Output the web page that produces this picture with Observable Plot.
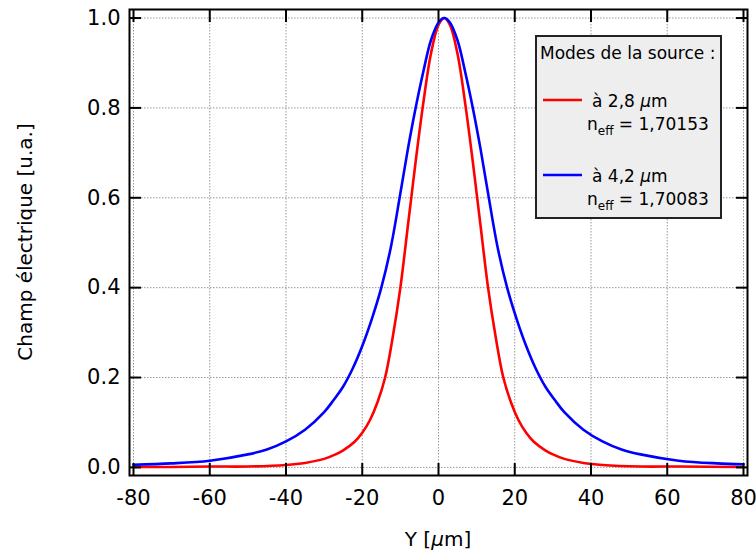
<!DOCTYPE html>
<html><head><meta charset="utf-8">
<script src="https://cdn.jsdelivr.net/npm/d3@7"></script>
<script src="https://cdn.jsdelivr.net/npm/@observablehq/plot@0.6"></script>
<style>body{margin:0;background:#fff;} #chart{width:756px;height:552px;}</style>
</head><body><div id="chart"></div>
<script>
const xTicks = [-80, -60, -40, -20, 0, 20, 40, 60, 80];
const yTicks = [0, 0.2, 0.4, 0.6, 0.8, 1.0];

const redX = [-80,-70,-60,-50,-40,-35,-30,-27,-25,-22,-20,-18,-16,-14,-12,-10,-8,-7,-6,-4,-2,0,1.5,3,5,7,9,10,11,13,15,17,19,21,23,25,28,30,33,38,43,53,63,80];
const redY = [0.001,0.001,0.002,0.002,0.0055,0.010,0.019,0.029,0.038,0.057,0.077,0.105,0.145,0.20,0.29,0.40,0.54,0.61,0.68,0.81,0.92,0.985,1.0,0.985,0.92,0.81,0.68,0.61,0.54,0.40,0.29,0.20,0.145,0.105,0.077,0.057,0.038,0.029,0.019,0.010,0.0055,0.002,0.002,0.001];

const blueX = [-80,-70,-60,-50,-45,-40,-35,-30,-27.5,-25,-22.5,-20,-17.5,-15,-12.5,-10,-8,-6,-4,-2,0,1.5,3,5,7,9,11,13,15.5,18,20.5,23,25.5,28,30.5,33,38,43,48,53,63,73,80];
const blueY = [0.006,0.009,0.015,0.029,0.040,0.058,0.084,0.123,0.15,0.18,0.22,0.27,0.33,0.40,0.49,0.61,0.71,0.80,0.88,0.95,0.99,1.0,0.99,0.95,0.88,0.80,0.71,0.61,0.49,0.40,0.33,0.27,0.22,0.18,0.15,0.123,0.084,0.058,0.040,0.029,0.015,0.009,0.007];

const legendTitle = "Modes de la source :";
const seriesWavelength = ["à 2,8 ", "à 4,2 "];
const seriesNeff = ["1,70153", "1,70083"];
const seriesColors = ["#ff0000", "#0000ff"];
const xLabel = "Y";
const yLabel = "Champ électrique [u.a.]";

const redData = redX.map((x, i) => ({x, y: redY[i]}));
const blueData = blueX.map((x, i) => ({x, y: blueY[i]}));

const gridOpts = {stroke: "#999", strokeOpacity: 1, strokeWidth: 1, strokeDasharray: "1.5,1.5"};
const tickOpts = {tickSize: 12, strokeWidth: 2, fill: "none", label: null};

const plot = Plot.plot({
  width: 756, height: 552,
  marginLeft: 129, marginRight: 9, marginTop: 9, marginBottom: 77,
  style: {fontFamily: "'DejaVu Sans', sans-serif", fontSize: "21px", color: "black", background: "white", overflow: "visible"},
  x: {domain: [-81.05, 81.05]},
  y: {domain: [-0.018, 1.019]},
  marks: [
    Plot.gridX(xTicks, gridOpts),
    Plot.gridY(yTicks, gridOpts),
    Plot.line(redData, {x: "x", y: "y", stroke: seriesColors[0], strokeWidth: 2.6, curve: "catmull-rom"}),
    Plot.line(blueData, {x: "x", y: "y", stroke: seriesColors[1], strokeWidth: 2.6, curve: "catmull-rom"}),
    Plot.axisX(xTicks, {anchor: "bottom", tickSize: 0, tickPadding: 15, label: null, tickFormat: d => String(d)}),
    Plot.axisY(yTicks, {anchor: "left", tickSize: 0, tickPadding: 9, label: null, tickFormat: d3.format(".1f")}),
    Plot.axisX(xTicks, {anchor: "bottom", dy: -12, ...tickOpts}),
    Plot.axisX(xTicks, {anchor: "top", dy: 12, ...tickOpts}),
    Plot.axisY(yTicks, {anchor: "left", dx: 12, ...tickOpts}),
    Plot.axisY(yTicks, {anchor: "right", dx: -12, ...tickOpts}),
    Plot.frame({stroke: "#000", strokeWidth: 2})
  ]
});
document.getElementById("chart").appendChild(plot);

const svg = d3.select(plot);
// axis titles
const xt = svg.append("text").attr("x", 438).attr("y", 546).attr("text-anchor", "middle")
  .style("font-size", "20px").attr("fill", "black");
xt.append("tspan").text(xLabel + " [");
xt.append("tspan").attr("font-style", "italic").text("µ");
xt.append("tspan").text("m]");

svg.append("text").attr("transform", "translate(32,242) rotate(-90)").attr("text-anchor", "middle")
  .style("font-size", "20px").attr("fill", "black").text(yLabel);

// legend
const lg = svg.append("g").style("font-size", "17px").attr("text-anchor", "start");
lg.append("rect").attr("x", 536).attr("y", 36).attr("width", 185).attr("height", 182)
  .attr("fill", "#eeeeee").attr("stroke", "#222").attr("stroke-width", 2);
lg.append("text").attr("x", 540).attr("y", 59).attr("fill", "black").text(legendTitle);
const rowY = [100, 175];
seriesColors.forEach((c, i) => {
  const y0 = rowY[i];
  lg.append("line").attr("x1", 543).attr("x2", 582).attr("y1", y0).attr("y2", y0)
    .attr("stroke", c).attr("stroke-width", 2.6);
  const t1 = lg.append("text").attr("x", 592).attr("y", y0 + 7).attr("fill", "black");
  t1.append("tspan").text(seriesWavelength[i]);
  t1.append("tspan").attr("font-style", "italic").text("µ");
  t1.append("tspan").text("m");
  const t2 = lg.append("text").attr("x", 587).attr("y", y0 + 30).attr("fill", "black");
  t2.append("tspan").text("n");
  t2.append("tspan").attr("dy", 5).style("font-size", "12px").text("eff");
  t2.append("tspan").attr("dy", -5).text(" = " + seriesNeff[i]);
});
</script>
</body></html>
